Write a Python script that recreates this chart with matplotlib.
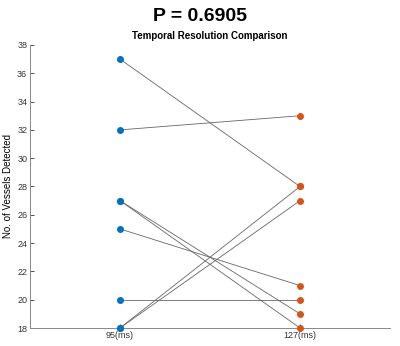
import matplotlib
matplotlib.use("Agg")
import matplotlib.pyplot as plt

labels = ["95(ms)", "127(ms)"]
before = [37, 32, 27, 27, 25, 20, 18, 18]
after = [28, 33, 19, 18, 21, 20, 28, 27]

plt.rcParams['font.family'] = ['Liberation Sans', 'DejaVu Sans']

fig = plt.figure(figsize=(4.0, 3.46), dpi=100)
ax = fig.add_axes([0.075, 0.052, 0.9, 0.818])

for b, a in zip(before, after):
    ax.plot([1, 2], [b, a], color='#666666', linewidth=0.6, zorder=1, clip_on=False)
ax.plot([1] * len(before), before, 'o', color='#0072BD', markersize=4, zorder=3, clip_on=False)
ax.plot([2] * len(after), after, 'o', color='#D95319', markersize=4, zorder=3, clip_on=False)

ax.set_xlim(0.5, 2.5)
ax.set_ylim(18, 38)
ax.set_yticks(range(18, 39, 2))
ax.set_xticks([1, 2])
ax.set_xticklabels(labels)
ax.tick_params(direction='in', labelsize=6.5, length=3, width=0.6, colors='#333333', pad=2)
for s in ['top', 'right']:
    ax.spines[s].set_visible(False)
for s in ['left', 'bottom']:
    ax.spines[s].set_color('#888888')
    ax.spines[s].set_linewidth(0.7)
ax.set_ylabel("No. of Vessels Detected", fontsize=7, labelpad=3)
ax.set_title("Temporal Resolution Comparison", fontsize=7, fontweight='bold', pad=4)
fig.suptitle("P = 0.6905", fontsize=14, fontweight='bold', y=0.978)

fig.savefig("out.png", dpi=100)
